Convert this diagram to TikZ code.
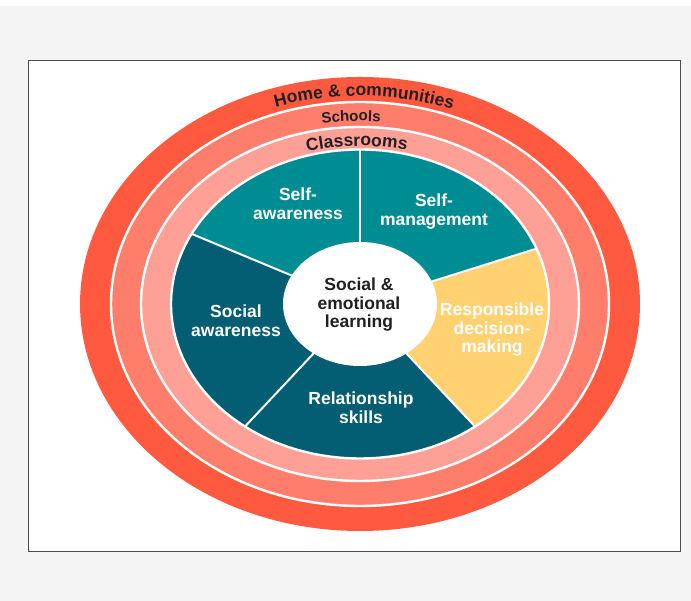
\documentclass[tikz,border=0pt]{standalone}
\usepackage{fontspec}
\setmainfont{Liberation Sans}
\usetikzlibrary{calc,decorations.text}
\definecolor{pageGray}{HTML}{F4F4F4}
\definecolor{homeRed}{HTML}{FF5A40}
\definecolor{schoolSalmon}{HTML}{FF7E6B}
\definecolor{classPink}{HTML}{FFA096}
\definecolor{selTeal}{HTML}{008C93}
\definecolor{selDark}{HTML}{035E74}
\definecolor{selYellow}{HTML}{FFD171}
\definecolor{inkDark}{HTML}{231F20}
\tikzset{
  lbl/.style={font=\fontsize{17.5}{18.5}\selectfont\bfseries, text=white, align=center, inner sep=0pt},
  ringline/.style={draw=white, line width=2.4pt},
}
\begin{document}
\begin{tikzpicture}[x=1pt, y=1pt]
    % 背景和边框
    \useasboundingbox (0,0) rectangle (691,601);
    \fill[pageGray] (0,0) rectangle (691,601);
    \fill[white] (0,594.5) rectangle (691,601);
    \draw[white, fill=white, draw=black!70, line width=0.9pt] (28,50) rectangle (680,541);
    \coordinate (c) at (360,297); % 中心
    % 三层圆环
    \fill[homeRed] (c) ellipse [x radius=280, y radius=227]; % 家庭和社区
    \filldraw[schoolSalmon, ringline] (c) ellipse [x radius=249, y radius=202]; % 学校
    \filldraw[classPink, ringline] (c) ellipse [x radius=219, y radius=177]; % 教室
    % 五个扇形
    \fill[selTeal] (c) -- ++(21:189 and 154.5) arc[start angle=21, end angle=90, x radius=189, y radius=154.5] -- cycle;
    \fill[selTeal] (c) -- ++(90:189 and 154.5) arc[start angle=90, end angle=153, x radius=189, y radius=154.5] -- cycle;
    \fill[selDark] (c) -- ++(153:189 and 154.5) arc[start angle=153, end angle=232.5, x radius=189, y radius=154.5] -- cycle;
    \fill[selDark] (c) -- ++(232.5:189 and 154.5) arc[start angle=232.5, end angle=307.5, x radius=189, y radius=154.5] -- cycle;
    \fill[selYellow] (c) -- ++(307.5:189 and 154.5) arc[start angle=307.5, end angle=381, x radius=189, y radius=154.5] -- cycle;
    \foreach \a in {21,90,153,232.5,307.5}
        \draw[white, line width=2pt] (c) -- ++(\a:189 and 154.5); % 分隔线
    \draw[ringline] (c) ellipse [x radius=189, y radius=154.5];
    \fill[white] (c) ellipse [x radius=77, y radius=62]; % 中心椭圆
    % 弧形文字
    \path[decorate, decoration={text along path, text align=center, text color=inkDark,
        text={|\fontsize{17.5}{18}\selectfont\bfseries|Home {\&} communities}}]
        ($(c)+(129:261 and 208)$) arc[start angle=129, end angle=49, x radius=261, y radius=208];
    \path[decorate, decoration={text along path, text align=center, text color=inkDark,
        text={|\fontsize{15}{16}\selectfont\bfseries|Schools}}]
        ($(c)+(132.4:230 and 183)$) arc[start angle=132.4, end angle=52.4, x radius=230, y radius=183];
    \path[decorate, decoration={text along path, text align=center, text color=inkDark,
        text={|\fontsize{17.5}{18}\selectfont\bfseries|Classrooms}}]
        ($(c)+(136:200 and 158)$) arc[start angle=136, end angle=46, x radius=200, y radius=158];
    % 扇形标签
    \node[lbl] (selfaware) at (298,397) {Self-\\awareness};
    \node[lbl] (selfmanage) at (434,389.3) {Self-\\management};
    \node[lbl] (socialaware) at (236,280) {Social\\awareness};
    \node[lbl] (relskills) at (361,193) {Relationship\\skills};
    \node[lbl] (decision) at (492,271) {Responsible\\decision-\\making};
    \node[lbl, text=inkDark] (sel) at (359,296) {Social \&\\emotional\\learning};
\end{tikzpicture}
\end{document}
